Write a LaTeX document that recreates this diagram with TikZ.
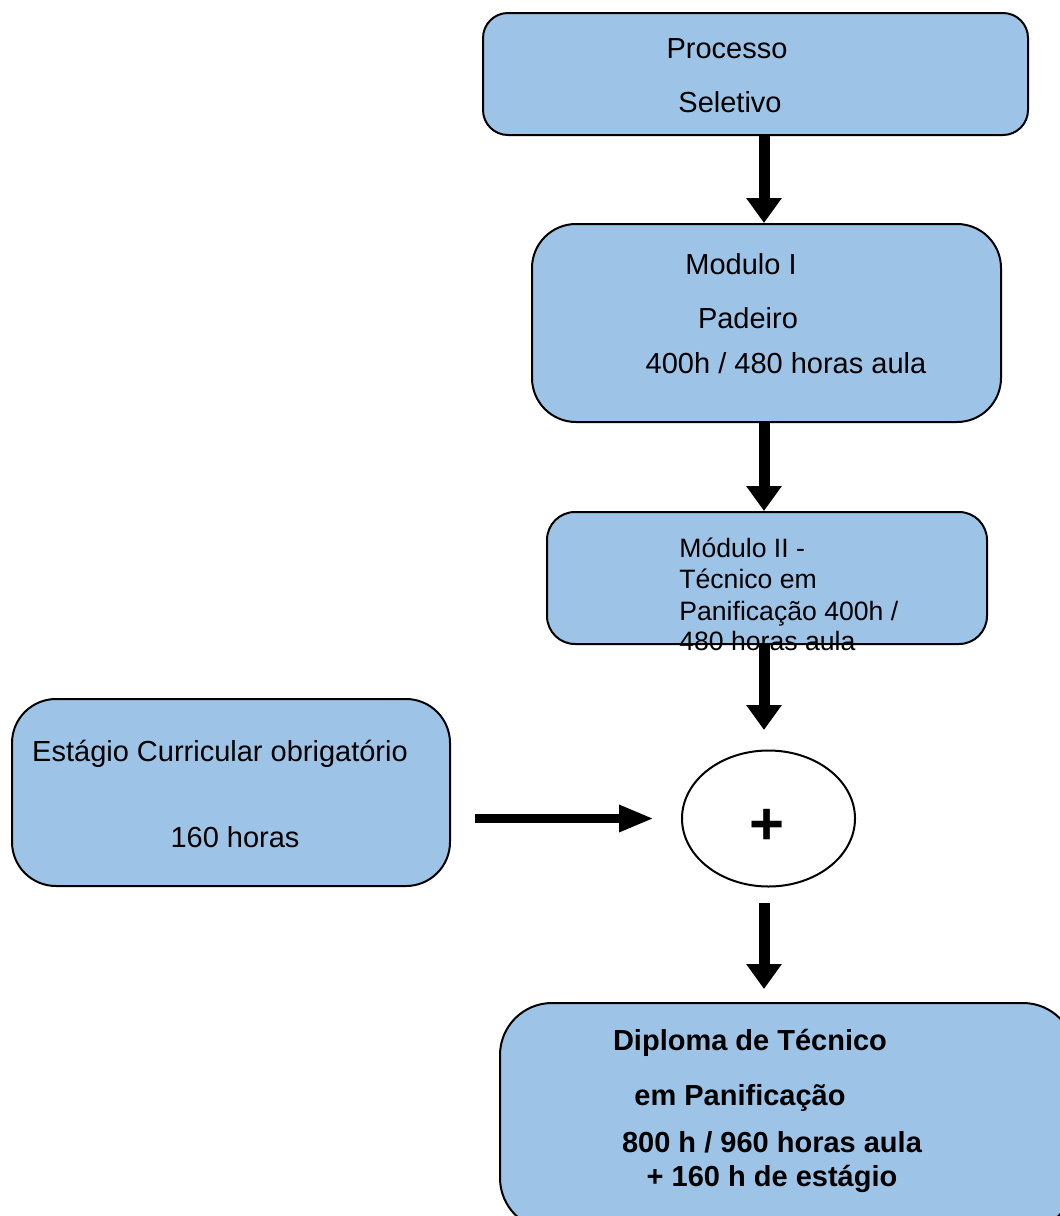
\documentclass[tikz,border=0pt]{standalone}
\usepackage{fontspec}
\setmainfont{Liberation Sans}
\usetikzlibrary{arrows.meta}
\usetikzlibrary{shapes.geometric}
\definecolor{boxblue}{RGB}{157,195,230}

\begin{document}
\begin{tikzpicture}[x=0.5pt,y=-0.5pt]
	\useasboundingbox (0,0) rectangle (1060,1216);
	\clip (0,0) rectangle (1060,1216);
	\begin{scope} [every node/.style={draw=black, line width=1pt, fill=boxblue, inner sep=0pt}]
		\node[rounded corners=12.5pt, minimum width=272.5pt, minimum height=61pt] (proc) at (755.5,74){};
		\node[rounded corners=22pt, minimum width=234.5pt, minimum height=99pt] (mod1) at (766.5,323){};
		\node[rounded corners=14pt, minimum width=220pt, minimum height=66pt] (mod2) at (767,578){};
		\node[rounded corners=22pt, minimum width=219pt, minimum height=93.5pt] (est) at (231,792.5){};
		\node[rounded corners=26pt, minimum width=287.5pt, minimum height=113.5pt] (dipl) at (787.5,1116.5){};
		\node[ellipse, fill=white, minimum width=86.5pt, minimum height=68pt] (soma) at (768.5,818.5){};
	\end{scope}
	\begin{scope} [every node/.style={font=\fontsize{14.5}{17}\selectfont, anchor=base, inner sep=0pt}]
		\node (procA) at (727,58){Processo};
		\node (procB) at (730,112){Seletivo};
		\node (mod1A) at (741,274){Modulo I};
		\node (mod1B) at (748,328){Padeiro};
		\node (mod1C) at (786,373){400h / 480 horas aula};
		\node (estA) at (220,761){Estágio Curricular obrigatório};
		\node (estB) at (235,847){160 horas};
	\end{scope}
	\begin{scope} [every node/.style={font=\fontsize{13.3}{15.5}\selectfont, anchor=base west, inner sep=0pt}]
		\node (mod2A) at (679,557){Módulo II -};
		\node (mod2B) at (679,588){Técnico em};
		\node (mod2C) at (679,620){Panificação 400h /};
		\node (mod2D) at (679,650){480 horas aula};
	\end{scope}
	\begin{scope} [every node/.style={font=\fontsize{14.5}{17}\selectfont\bfseries, anchor=base, inner sep=0pt}]
		\node (diplA) at (750,1050){Diploma de Técnico};
		\node (diplB) at (740,1105){em Panificação};
		\node (diplC) at (772,1152){800 h / 960 horas aula};
		\node (diplD) at (772,1186){+ 160 h de estágio};
	\end{scope}
	\node[font=\fontsize{30}{32}\selectfont\bfseries, inner sep=0pt] (somaT) at (767,827){+};
	\coordinate (ax) at (764,0);
	\begin{scope} [line width=5.5pt, -{Triangle[width=17pt,length=12.5pt]}]
		\draw (proc.south -| ax) -- (mod1.north -| ax);
		\draw (mod1.south -| ax) -- (mod2.north -| ax);
		\draw[shorten >=9.75pt] (mod2.south -| ax) -- (soma.north -| ax);
		\draw[shorten <=7.75pt, shorten >=6.5pt] (soma.south -| ax) -- (dipl.north -| ax);
	\end{scope}
	\draw[line width=4.5pt, -{Triangle[width=12.5pt,length=17.5pt]}, shorten <=12pt, shorten >=13.5pt] (est.east |- soma.west) -- (soma.west);
\end{tikzpicture}
\end{document}
